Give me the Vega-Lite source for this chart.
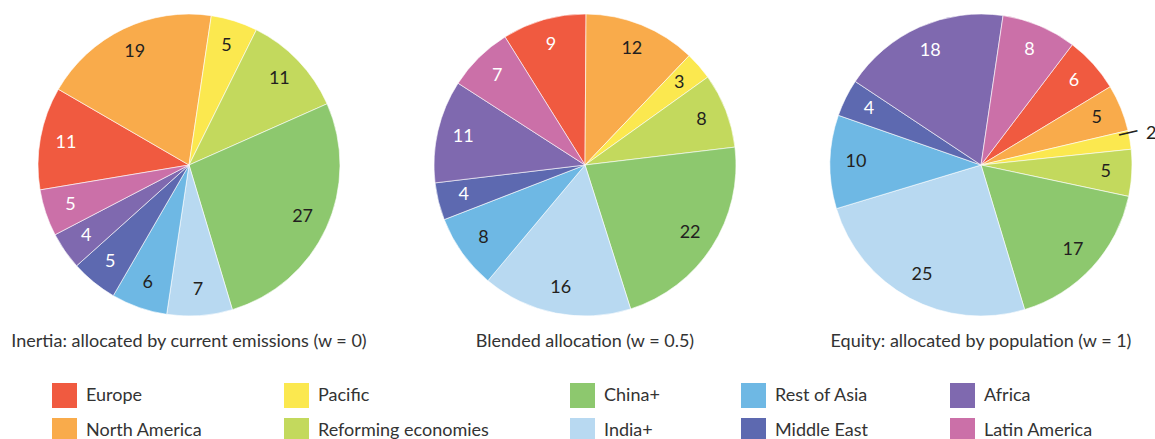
{
  "$schema": "https://vega.github.io/schema/vega-lite/v6.json",
  "padding": {"left": 10, "top": 12, "right": 0, "bottom": 0},
  "bounds": "flush",
  "config": {
    "view": {"stroke": null},
    "font": "Lato",
    "title": {"font": "Lato", "fontSize": 18, "fontWeight": "normal", "color": "#333333", "orient": "bottom", "anchor": "middle", "offset": 16},
    "legend": {
      "orient": "none",
      "legendX": 14,
      "legendY": 369,
      "columns": 5,
      "columnPadding": 81,
      "rowPadding": 10,
      "symbolType": "square",
      "symbolSize": 625,
      "symbolStrokeWidth": 0,
      "symbolOpacity": 1,
      "labelFont": "Lato",
      "labelFontSize": 18,
      "labelColor": "#333333",
      "labelOffset": 9,
      "labelLimit": 300
    }
  },
  "datasets": {
    "shares": [
      {"scenario": "Inertia", "region": "Europe", "rank": 1, "value": 11},
      {"scenario": "Inertia", "region": "North America", "rank": 2, "value": 19},
      {"scenario": "Inertia", "region": "Pacific", "rank": 3, "value": 5},
      {"scenario": "Inertia", "region": "Reforming economies", "rank": 4, "value": 11},
      {"scenario": "Inertia", "region": "China+", "rank": 5, "value": 27},
      {"scenario": "Inertia", "region": "India+", "rank": 6, "value": 7},
      {"scenario": "Inertia", "region": "Rest of Asia", "rank": 7, "value": 6},
      {"scenario": "Inertia", "region": "Middle East", "rank": 8, "value": 5},
      {"scenario": "Inertia", "region": "Africa", "rank": 9, "value": 4},
      {"scenario": "Inertia", "region": "Latin America", "rank": 10, "value": 5},
      {"scenario": "Blended", "region": "Europe", "rank": 1, "value": 9},
      {"scenario": "Blended", "region": "North America", "rank": 2, "value": 12},
      {"scenario": "Blended", "region": "Pacific", "rank": 3, "value": 3},
      {"scenario": "Blended", "region": "Reforming economies", "rank": 4, "value": 8},
      {"scenario": "Blended", "region": "China+", "rank": 5, "value": 22},
      {"scenario": "Blended", "region": "India+", "rank": 6, "value": 16},
      {"scenario": "Blended", "region": "Rest of Asia", "rank": 7, "value": 8},
      {"scenario": "Blended", "region": "Middle East", "rank": 8, "value": 4},
      {"scenario": "Blended", "region": "Africa", "rank": 9, "value": 11},
      {"scenario": "Blended", "region": "Latin America", "rank": 10, "value": 7},
      {"scenario": "Equity", "region": "Europe", "rank": 1, "value": 6},
      {"scenario": "Equity", "region": "North America", "rank": 2, "value": 5},
      {"scenario": "Equity", "region": "Pacific", "rank": 3, "value": 2},
      {"scenario": "Equity", "region": "Reforming economies", "rank": 4, "value": 5},
      {"scenario": "Equity", "region": "China+", "rank": 5, "value": 17},
      {"scenario": "Equity", "region": "India+", "rank": 6, "value": 25},
      {"scenario": "Equity", "region": "Rest of Asia", "rank": 7, "value": 10},
      {"scenario": "Equity", "region": "Middle East", "rank": 8, "value": 4},
      {"scenario": "Equity", "region": "Africa", "rank": 9, "value": 18},
      {"scenario": "Equity", "region": "Latin America", "rank": 10, "value": 8}
    ]
  },
  "data": {"name": "shares"},
  "spacing": 94,
  "hconcat": [
    {
      "width": 302,
      "height": 302,
      "title": "Inertia: allocated by current emissions (w = 0)",
      "transform": [{"filter": "datum.scenario === 'Inertia'"}],
      "encoding": {
        "theta": {"field": "value", "type": "quantitative", "stack": true, "scale": {"range": [-1.7366, 4.5466]}},
        "order": {"field": "rank", "type": "quantitative"}
      },
      "layer": [
        {
          "mark": {"type": "arc", "stroke": "#ffffff", "strokeWidth": 0.6},
          "encoding": {
            "color": {
              "field": "region",
              "type": "nominal",
              "title": null,
              "scale": {
                "domain": ["Europe", "North America", "Pacific", "Reforming economies", "China+", "India+", "Rest of Asia", "Middle East", "Africa", "Latin America"],
                "range": ["#f05a40", "#f9ab4b", "#fbe84f", "#c3d95d", "#8dc86e", "#b8d9f1", "#6eb8e4", "#5d69b0", "#7f69af", "#cb70a8"]
              }
            }
          }
        },
        {
          "mark": {"type": "text", "radius": 125, "fontSize": 18, "font": "Lato"},
          "encoding": {
            "text": {"field": "value", "type": "quantitative"},
            "color": {"condition": {"test": "indexof(['Europe', 'Middle East', 'Africa', 'Latin America'], datum.region) >= 0", "value": "#ffffff"}, "value": "#231f20"}
          }
        }
      ]
    },
    {
      "width": 302,
      "height": 302,
      "title": "Blended allocation (w = 0.5)",
      "transform": [{"filter": "datum.scenario === 'Blended'"}],
      "encoding": {
        "theta": {"field": "value", "type": "quantitative", "stack": true, "scale": {"range": [-0.5585, 5.7247]}},
        "order": {"field": "rank", "type": "quantitative"}
      },
      "layer": [
        {
          "mark": {"type": "arc", "stroke": "#ffffff", "strokeWidth": 0.6},
          "encoding": {
            "color": {"field": "region", "type": "nominal", "title": null}
          }
        },
        {
          "mark": {"type": "text", "radius": 125, "fontSize": 18, "font": "Lato"},
          "encoding": {
            "text": {"field": "value", "type": "quantitative"},
            "color": {"condition": {"test": "indexof(['Europe', 'Middle East', 'Africa', 'Latin America'], datum.region) >= 0", "value": "#ffffff"}, "value": "#231f20"}
          }
        }
      ]
    },
    {
      "width": 302,
      "height": 302,
      "title": "Equity: allocated by population (w = 1)",
      "transform": [{"filter": "datum.scenario === 'Equity'"}],
      "encoding": {
        "theta": {"field": "value", "type": "quantitative", "stack": true, "scale": {"range": [0.6493, 6.9325]}},
        "order": {"field": "rank", "type": "quantitative"}
      },
      "layer": [
        {
          "mark": {"type": "arc", "stroke": "#ffffff", "strokeWidth": 0.6},
          "encoding": {
            "color": {"field": "region", "type": "nominal", "title": null}
          }
        },
        {
          "mark": {"type": "text", "radius": 125, "fontSize": 18, "font": "Lato"},
          "encoding": {
            "text": {"condition": {"test": "datum.region === 'Pacific'", "value": ""}, "field": "value", "type": "quantitative"},
            "color": {"condition": {"test": "indexof(['Europe', 'Middle East', 'Africa', 'Latin America'], datum.region) >= 0", "value": "#ffffff"}, "value": "#231f20"}
          }
        },
        {
          "mark": {"type": "text", "radius": 126, "dx": 46, "dy": -10, "fontSize": 18, "font": "Lato", "color": "#231f20"},
          "encoding": {
            "text": {"condition": {"test": "datum.region === 'Pacific'", "field": "value", "type": "quantitative"}, "value": ""}
          }
        },
        {
          "mark": {"type": "text", "radius": 126, "dx": 25, "dy": -6, "fontSize": 21, "font": "DejaVu Sans", "color": "#231f20", "angle": -13},
          "encoding": {
            "text": {"condition": {"test": "datum.region === 'Pacific'", "value": "—"}, "value": ""}
          }
        }
      ]
    }
  ],
  "resolve": {"scale": {"theta": "independent", "color": "shared"}}
}
